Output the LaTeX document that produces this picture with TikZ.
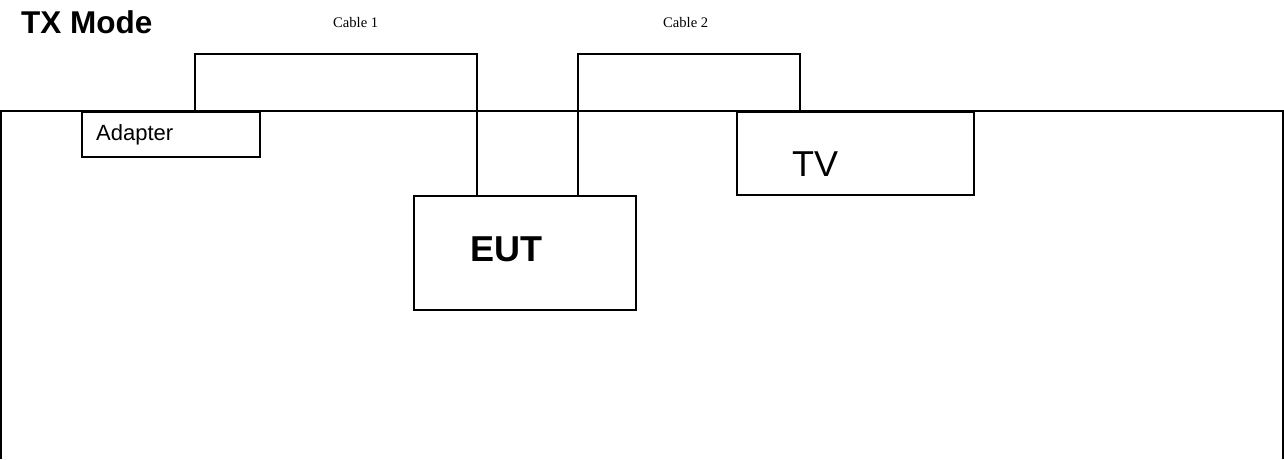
\documentclass[tikz,border=0pt]{standalone}
\usepackage{fontspec}
\setmainfont{Liberation Sans}
\newfontfamily\timesfont{Liberation Serif}
\begin{document}
\begin{tikzpicture}[x=1pt,y=-1pt,
  wire/.style={line width=1.8pt, line join=miter},
  unitbox/.style={draw, line width=1.8pt, inner sep=0pt, anchor=north west},
  txt/.style={inner sep=0pt, anchor=base west}]
\useasboundingbox (0,0) rectangle (1284,459);
% outer room outline (open at bottom)
\coordinate (rbl) at (1,459);
\coordinate (rtl) at (1,111);
\coordinate (rtr) at (1283,111);
\coordinate (rbr) at (1283,459);
\draw[wire] (rbl) -- (rtl) -- (rtr) -- (rbr);
% boxes
\node[unitbox, fill=white, minimum width=178pt, minimum height=45pt] (adapter) at (81,111) {};
\node[unitbox, fill=white, minimum width=222pt, minimum height=114pt] (eut) at (413,195) {};
\node[unitbox, fill=white, minimum width=237pt, minimum height=83pt] (tv) at (736,111) {};
% texts
\node[txt] (title) at (21,33) {\fontsize{31.5}{36}\selectfont\bfseries TX Mode};
\node[txt] (adaptertxt) at (96,140) {\fontsize{22}{26}\selectfont Adapter};
\node[txt] (euttxt) at (470,261) {\fontsize{36}{42}\selectfont\bfseries EUT};
\node[txt] (tvtxt) at (792,176) {\fontsize{36}{42}\selectfont TV};
\node[txt] (cable1) at (333,27) {\fontsize{14.6}{17}\selectfont\timesfont Cable 1};
\node[txt] (cable2) at (663,27) {\fontsize{14.6}{17}\selectfont\timesfont Cable 2};
% cables
\coordinate (c1a) at (195,54);
\coordinate (c1b) at (477,54);
\coordinate (c2a) at (578,54);
\coordinate (c2b) at (800,54);
\draw[wire] (c1a |- adapter.north) -- (c1a) -- (c1b) -- (c1b |- eut.north);
\draw[wire] (c2a |- eut.north) -- (c2a) -- (c2b) -- (c2b |- tv.north);
\end{tikzpicture}
\end{document}
